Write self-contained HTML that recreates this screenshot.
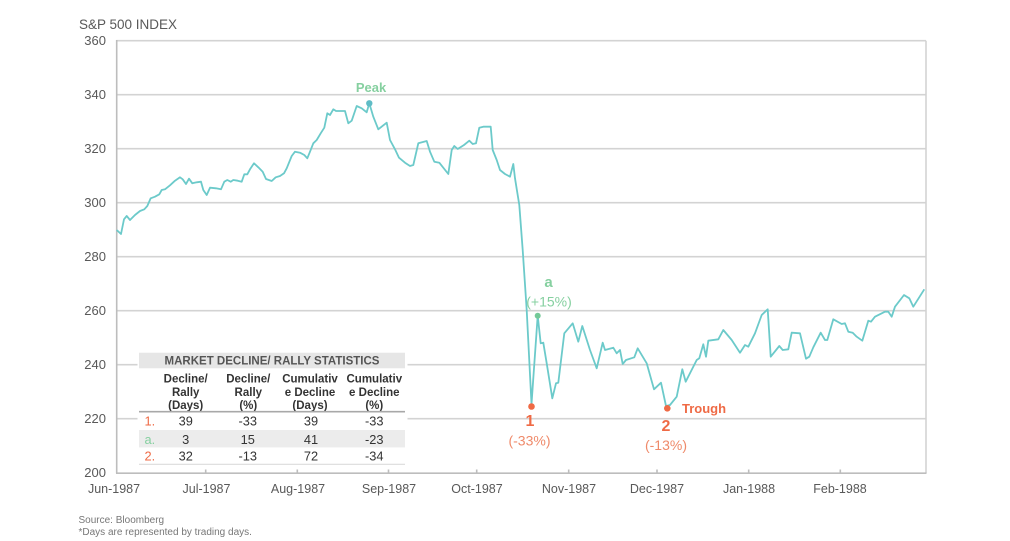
<!DOCTYPE html>
<html><head><meta charset="utf-8"><style>
html,body{margin:0;padding:0;background:#fff;}
svg{display:block;font-family:"Liberation Sans",Arial,sans-serif;}
</style></head><body>
<svg width="1010" height="541" viewBox="0 0 1010 541" xmlns="http://www.w3.org/2000/svg">
<rect width="1010" height="541" fill="#fff"/>
<text x="79" y="29" font-size="13.5" fill="#595959">S&amp;P 500 INDEX</text>
<g stroke="#d3d3d3" stroke-width="1.6">
<line x1="116.5" y1="40.7" x2="926" y2="40.7"/>
<line x1="116.5" y1="94.7" x2="926" y2="94.7"/>
<line x1="116.5" y1="148.7" x2="926" y2="148.7"/>
<line x1="116.5" y1="202.7" x2="926" y2="202.7"/>
<line x1="116.5" y1="256.7" x2="926" y2="256.7"/>
<line x1="116.5" y1="310.7" x2="926" y2="310.7"/>
<line x1="116.5" y1="364.7" x2="926" y2="364.7"/>
<line x1="116.5" y1="418.7" x2="926" y2="418.7"/>
<line x1="926" y1="40.7" x2="926" y2="473"/>
</g>
<g stroke="#bdbdbd" stroke-width="1.6">
<line x1="116.7" y1="40" x2="116.7" y2="473.2"/>
<line x1="116" y1="473.2" x2="926.5" y2="473.2"/>
<line x1="205.7" y1="469.5" x2="205.7" y2="473"/>
<line x1="297.3" y1="469.5" x2="297.3" y2="473"/>
<line x1="388.5" y1="469.5" x2="388.5" y2="473"/>
<line x1="476.7" y1="469.5" x2="476.7" y2="473"/>
<line x1="568.7" y1="469.5" x2="568.7" y2="473"/>
<line x1="657" y1="469.5" x2="657" y2="473"/>
<line x1="748.7" y1="469.5" x2="748.7" y2="473"/>
<line x1="840.3" y1="469.5" x2="840.3" y2="473"/>
</g>
<g font-size="13" fill="#595959" text-anchor="end">
<text x="106" y="45.2">360</text>
<text x="106" y="99.2">340</text>
<text x="106" y="153.2">320</text>
<text x="106" y="207.2">300</text>
<text x="106" y="261.2">280</text>
<text x="106" y="315.2">260</text>
<text x="106" y="369.2">240</text>
<text x="106" y="423.2">220</text>
<text x="106" y="477.2">200</text>
</g>
<g font-size="12.5" fill="#595959" text-anchor="middle">
<text x="114" y="493">Jun-1987</text>
<text x="206.5" y="493">Jul-1987</text>
<text x="298" y="493">Aug-1987</text>
<text x="389" y="493">Sep-1987</text>
<text x="477" y="493">Oct-1987</text>
<text x="569" y="493">Nov-1987</text>
<text x="657" y="493">Dec-1987</text>
<text x="749" y="493">Jan-1988</text>
<text x="840" y="493">Feb-1988</text>
</g>
<polyline fill="none" stroke="#6ccaca" stroke-width="1.8" stroke-linejoin="round" points="116.7,230 121,234 124,219.3 126.7,216 130,220 135,215 140,211 144.3,209.3 147.3,206 150.7,198.3 155,196.7 159.3,194.3 161.7,190 165,189.3 170,185.3 175,180.7 180,177.3 182.7,179.3 186,184 189,178.7 192.3,183.3 196.7,182.3 201,181.7 203.3,190 206.7,195 210,187.7 216,188.3 221,189.3 224.3,181.7 227.3,180 230.7,181.7 233.3,180 237.7,180.7 241.7,181.7 244.3,174.3 247.3,174.3 250,169.3 254,163.3 258.3,167.3 262.7,171.7 266,179 271.7,181 275.7,177.3 280,176 284,173.3 286.7,168.3 291.7,156 295,151.7 300,152.7 304.3,155 307.3,158.3 310,151.7 313.3,143.3 316.7,140 320.7,133.3 324.3,127.7 327.3,113.3 330,115 333.3,109.3 336,111 345,111 348.3,123.3 351.7,120.7 356.7,106 361.7,108.3 366.7,112.3 369.3,103.3 373.3,116.7 378.3,129.3 386.7,122.7 390,140 395,149.3 399,157.7 405,162.7 410,166 413.3,165 418.3,143.3 426.7,141 430,151.7 434.3,161.7 439.3,162.7 448.3,174 451.7,150 454.3,146 457.7,149 464,145 469.3,140.7 472.7,144 476,143.3 479.3,127.7 483.3,126.7 490.7,126.7 492.7,150 496.7,160 500,170 505,174 510,176.7 513.3,164 515,178.3 519.3,205 522.7,250 526.7,310 531.5,404 537.7,315.7 540.7,343.3 543.3,342.7 546.7,363.3 552.3,398.3 556,383.3 558.3,382.7 564.3,333.3 572.7,323.3 578.3,341.7 582.3,326 590,350 596.7,368.3 602.7,342.7 605,350 613.3,347.7 616.7,353.3 620,350 622.7,364 626,360 634.3,357.3 637.7,348.3 646.7,363.3 654,389.3 661,382.7 666,406 670,405 676.7,396.7 682.3,369.3 685.7,381.7 696.7,360 699.3,358.3 703.3,344.3 706,356.7 708.3,340.7 718.3,339.3 723.3,330 731.7,340 740,352.7 745,345 748.3,346.7 755,333.3 761.7,315 767.7,309.3 770.7,356.7 779.3,346 782.7,350 788.3,349.3 791.7,332.7 800,333.3 806,358.7 809.3,356.7 813.3,347.3 820.7,332.7 825,340 827.3,340 833.3,319.3 841.7,324 845,323.3 848.3,331.7 852.7,332.7 856.7,336.7 862.3,340.7 868.3,320.7 871,321.7 875,316.7 885,311.7 888.3,311.7 891.7,316.7 895,306.7 904,295 909.3,298.3 913.3,306.7 924.3,289.3"/>
<circle cx="369.3" cy="103.3" r="3.2" fill="#5fbcc6"/>
<circle cx="537.7" cy="315.7" r="3" fill="#74c998"/>
<circle cx="531.5" cy="406.5" r="3.3" fill="#ef6a45"/>
<circle cx="667.3" cy="408.3" r="3.3" fill="#ef6a45"/>
<text x="371" y="92" font-size="13" font-weight="bold" fill="#86d0a0" text-anchor="middle">Peak</text>
<text x="548.5" y="287" font-size="15" font-weight="bold" fill="#86d0a0" text-anchor="middle">a</text>
<text x="549" y="306.5" font-size="14" fill="#86d0a0" text-anchor="middle">(+15%)</text>
<text x="530" y="426" font-size="16" font-weight="bold" fill="#ef6a45" text-anchor="middle">1</text>
<text x="529.5" y="445.5" font-size="14" fill="#ef8a6a" text-anchor="middle">(-33%)</text>
<text x="666" y="431" font-size="16" font-weight="bold" fill="#ef6a45" text-anchor="middle">2</text>
<text x="666" y="450" font-size="14" fill="#ef8a6a" text-anchor="middle">(-13%)</text>
<text x="682" y="413" font-size="13" font-weight="bold" fill="#ef6a45">Trough</text>
<!-- table -->
<rect x="137.5" y="348" width="270" height="119" fill="#fff"/>
<rect x="139" y="352.7" width="266" height="15.6" fill="#e6e6e6"/>
<text x="272" y="364.6" font-size="11.5" font-weight="bold" fill="#555" text-anchor="middle">MARKET DECLINE/ RALLY STATISTICS</text>
<g font-size="11.5" font-weight="bold" fill="#333" text-anchor="middle">
<text x="185.7" y="382.5">Decline/</text><text x="185.7" y="395.8">Rally</text><text x="185.7" y="409">(Days)</text>
<text x="248.3" y="382.5">Decline/</text><text x="248.3" y="395.8">Rally</text><text x="248.3" y="409">(%)</text>
<text x="310" y="382.5">Cumulativ</text><text x="310" y="395.8">e Decline</text><text x="310" y="409">(Days)</text>
<text x="374.3" y="382.5">Cumulativ</text><text x="374.3" y="395.8">e Decline</text><text x="374.3" y="409">(%)</text>
</g>
<line x1="139" y1="411.7" x2="405" y2="411.7" stroke="#a8a8a8" stroke-width="1.6"/>
<rect x="139" y="430" width="266" height="17.4" fill="#ececec"/>
<line x1="139" y1="464.3" x2="405" y2="464.3" stroke="#dcdcdc" stroke-width="1.2"/>
<g font-size="12.8" fill="#333" text-anchor="middle">
<text x="185.7" y="425.5">39</text><text x="247.7" y="425.5">-33</text><text x="311" y="425.5">39</text><text x="374.3" y="425.5">-33</text>
<text x="185.7" y="444">3</text><text x="247.7" y="444">15</text><text x="311" y="444">41</text><text x="374.3" y="444">-23</text>
<text x="185.7" y="460.5">32</text><text x="247.7" y="460.5">-13</text><text x="311" y="460.5">72</text><text x="374.3" y="460.5">-34</text>
</g>
<g font-size="12.8">
<text x="144.5" y="425.5" fill="#ef6a45">1.</text>
<text x="144.5" y="444" fill="#86d0a0">a.</text>
<text x="144.5" y="460.5" fill="#ef6a45">2.</text>
</g>
<text x="78.5" y="523" font-size="10" fill="#777">Source: Bloomberg</text>
<text x="78.5" y="535" font-size="10" fill="#777">*Days are represented by trading days.</text>
</svg>
</body></html>
